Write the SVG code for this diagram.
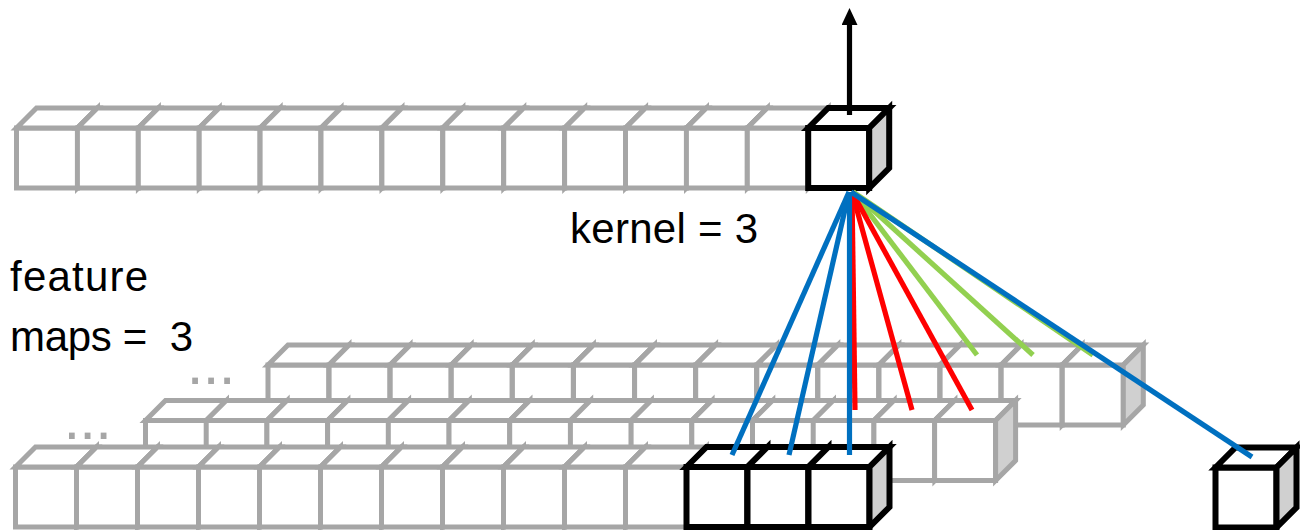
<svg xmlns="http://www.w3.org/2000/svg" width="1300" height="530" viewBox="0 0 1300 530">
<style>
.g{fill:#fff;stroke:#a6a6a6;stroke-width:5;stroke-linejoin:miter}
.gs{fill:#d0d0d0;stroke:#a6a6a6;stroke-width:5;stroke-linejoin:miter}
.b{fill:#fff;stroke:#000;stroke-width:6;stroke-linejoin:miter}
.bs{fill:#d0d0d0;stroke:#000;stroke-width:6;stroke-linejoin:miter}
.lbl{font-family:"Liberation Sans",Arial,sans-serif;font-size:42px;fill:#000}
.dots{font-family:"Liberation Sans",Arial,sans-serif;font-size:60px;fill:#a6a6a6;letter-spacing:-0.7px}
.conn line{stroke-width:5.2;stroke-linecap:butt}
.blue{stroke:#0070c0}.red{stroke:#ff0000}.green{stroke:#92d050}
</style>
<defs>
<g id="gcube"><path class="g" d="M0,0h61v60h-61z"/><path class="g" d="M0,0l20,-20h61l-20,20z"/><path class="gs" d="M61,0l20,-20v60l-20,20z"/></g>
<g id="bcube"><path class="b" d="M0,0h61v60h-61z"/><path class="b" d="M0,0l20,-20h61l-20,20z"/><path class="bs" d="M61,0l20,-20v60l-20,20z"/></g>
<marker id="ah" markerUnits="userSpaceOnUse" markerWidth="17" markerHeight="16" viewBox="0 0 17 16" refX="0" refY="8" orient="auto"><path d="M0,0L17,8L0,16z" fill="#000"/></marker>
</defs>

<g id="layer3">
<use href="#gcube" x="268" y="365"/><use href="#gcube" x="329.1" y="365"/><use href="#gcube" x="390.2" y="365"/><use href="#gcube" x="451.3" y="365"/><use href="#gcube" x="512.4" y="365"/><use href="#gcube" x="573.5" y="365"/><use href="#gcube" x="634.6" y="365"/><use href="#gcube" x="695.7" y="365"/><use href="#gcube" x="756.8" y="365"/><use href="#gcube" x="817.9" y="365"/><use href="#gcube" x="879" y="365"/><use href="#gcube" x="940.1" y="365"/><use href="#gcube" x="1001.2" y="365"/><use href="#gcube" x="1062.3" y="365"/>
</g>
<g id="layer2">
<use href="#gcube" x="145.5" y="420.5"/><use href="#gcube" x="206.2" y="420.5"/><use href="#gcube" x="266.9" y="420.5"/><use href="#gcube" x="327.6" y="420.5"/><use href="#gcube" x="388.3" y="420.5"/><use href="#gcube" x="449" y="420.5"/><use href="#gcube" x="509.7" y="420.5"/><use href="#gcube" x="570.4" y="420.5"/><use href="#gcube" x="631.1" y="420.5"/><use href="#gcube" x="691.8" y="420.5"/><use href="#gcube" x="752.5" y="420.5"/><use href="#gcube" x="813.2" y="420.5"/><use href="#gcube" x="873.9" y="420.5"/><use href="#gcube" x="934.6" y="420.5"/>
</g>
<g id="layer1">
<use href="#gcube" x="15.5" y="467"/><use href="#gcube" x="76.5" y="467"/><use href="#gcube" x="137.5" y="467"/><use href="#gcube" x="198.5" y="467"/><use href="#gcube" x="259.5" y="467"/><use href="#gcube" x="320.5" y="467"/><use href="#gcube" x="381.5" y="467"/><use href="#gcube" x="442.5" y="467"/><use href="#gcube" x="503.5" y="467"/><use href="#gcube" x="564.5" y="467"/><use href="#gcube" x="625.5" y="467"/>
</g>
<g id="kernel-cubes">
<use href="#bcube" x="686.5" y="467"/><use href="#bcube" x="747.5" y="467"/><use href="#bcube" x="808.5" y="467"/>
</g>
<g id="right-cube">
<use href="#bcube" x="1215.5" y="467.5"/>
</g>
<g id="top-row">
<use href="#gcube" x="16.5" y="128"/><use href="#gcube" x="77.4" y="128"/><use href="#gcube" x="138.3" y="128"/><use href="#gcube" x="199.2" y="128"/><use href="#gcube" x="260.1" y="128"/><use href="#gcube" x="321" y="128"/><use href="#gcube" x="381.9" y="128"/><use href="#gcube" x="442.8" y="128"/><use href="#gcube" x="503.7" y="128"/><use href="#gcube" x="564.6" y="128"/><use href="#gcube" x="625.5" y="128"/><use href="#gcube" x="686.4" y="128"/><use href="#gcube" x="747.3" y="128"/>
</g>
<g id="output-cube">
<use href="#bcube" x="808.2" y="128"/>
</g>

<g id="connectors" class="conn">
<line class="green" x1="853" y1="192" x2="977" y2="355"/>
<line class="green" x1="853" y1="192" x2="1033" y2="355"/>
<line class="green" x1="853" y1="192" x2="1093" y2="355"/>
<line class="red" x1="852" y1="192" x2="855" y2="410"/>
<line class="red" x1="852" y1="192" x2="912" y2="410"/>
<line class="red" x1="852" y1="192" x2="972" y2="410"/>
<line class="blue" x1="849" y1="192" x2="732" y2="455"/>
<line class="blue" x1="849" y1="192" x2="789" y2="455"/>
<line class="blue" x1="849.5" y1="192" x2="849.5" y2="455"/>
<line class="blue" x1="851" y1="192" x2="1252" y2="457"/>
<line x1="849.5" y1="115" x2="849.5" y2="25" stroke="#000" stroke-width="4.3" marker-end="url(#ah)"/>
</g>

<g id="labels">
<text class="lbl" x="570" y="243" textLength="188">kernel = 3</text>
<text class="lbl" x="10" y="291" textLength="138">feature</text>
<text class="lbl" x="10" y="351" textLength="183" xml:space="preserve">maps =  3</text>
<text class="dots" x="186.7" y="384">...</text>
<text class="dots" x="63.4" y="438.5">...</text>
</g>
</svg>
